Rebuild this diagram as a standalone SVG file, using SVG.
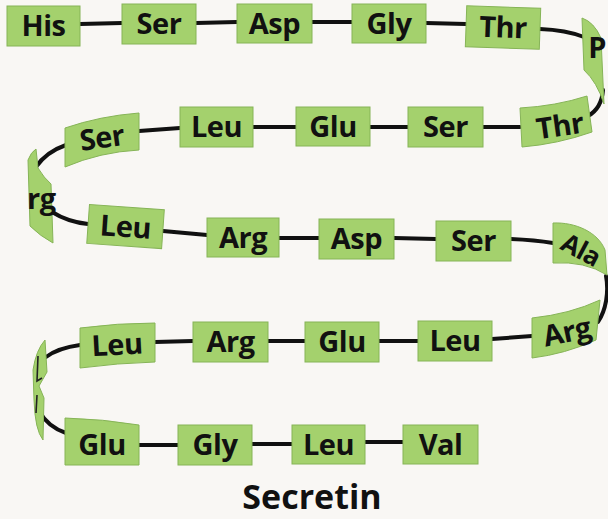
<svg xmlns="http://www.w3.org/2000/svg" width="608" height="519" viewBox="0 0 608 519">
<style>
.bx{fill:#a4d16d;stroke:#86b457;stroke-width:1}
.t{font-family:"Open Sans","Liberation Sans",sans-serif;font-weight:700;font-size:29px;fill:#111;text-anchor:middle;letter-spacing:-0.5px}
.c{fill:none;stroke:#111;stroke-width:4;stroke-linecap:round}
.title{font-family:"Open Sans","Liberation Sans",sans-serif;font-weight:700;font-size:34px;fill:#111;text-anchor:middle}
</style>
<rect width="608" height="519" fill="#f9f7f4"/>
<g id="connectors">
<path class="c" d="M80,24 L122,23"/>
<path class="c" d="M196,23 L237,22"/>
<path class="c" d="M312,22 L352,22"/>
<path class="c" d="M426,23 L466,24"/>
<path class="c" d="M540,29 Q566,30 584,37"/>
<path class="c" d="M603,90 C602,103 597,111 588,116"/>
<path class="c" d="M483,127 L520,127"/>
<path class="c" d="M370,127 L408,127"/>
<path class="c" d="M253,127 L296,127"/>
<path class="c" d="M139,131 L180,128"/>
<path class="c" d="M66,145 Q46,152 36,167"/>
<path class="c" d="M52,212 Q68,222 88,224"/>
<path class="c" d="M163,231 L207,235"/>
<path class="c" d="M279,238 L319,238"/>
<path class="c" d="M394,238 L436,239"/>
<path class="c" d="M511,239 Q535,240 553,243"/>
<path class="c" d="M606,276 C609,292 606,310 598,322"/>
<path class="c" d="M492,339 L532,336"/>
<path class="c" d="M379,341 L418,341"/>
<path class="c" d="M268,341 L305,341"/>
<path class="c" d="M155,342 L193,341"/>
<path class="c" d="M80,345 Q58,348 46,357"/>
<path class="c" d="M39,411 Q48,427 66,433"/>
<path class="c" d="M139,445 L178,445"/>
<path class="c" d="M252,444 L292,444"/>
<path class="c" d="M365,442 L403,442"/>
</g>
<g id="r1-his"><rect class="bx" x="7" y="6" width="73" height="40"/><text class="t" x="43.5" y="36">His</text></g>
<g id="r2-ser"><rect class="bx" x="122" y="4" width="74" height="40"/><text class="t" x="159" y="34">Ser</text></g>
<g id="r3-asp"><rect class="bx" x="237" y="4" width="75" height="39"/><text class="t" x="274.5" y="33.5">Asp</text></g>
<g id="r4-gly"><rect class="bx" x="352" y="4" width="74" height="39"/><text class="t" x="389" y="33.5">Gly</text></g>
<g id="r5-thr" transform="rotate(2 503 28)"><rect class="bx" x="466" y="7" width="74" height="41"/><text class="t" x="503" y="37.5">Thr</text></g>
<g id="r6-p"><path class="bx" d="M582,18 Q594,22 601,38 L604,104 Q597,82 584,70 Z"/><text class="t" x="597" y="58">P</text></g>
<g id="r7-thr"><path class="bx" d="M520,108 Q556,106 587,96 L592,132 Q558,144 522,147 Z"/><text class="t" transform="rotate(-8 560 126)" x="560" y="136">Thr</text></g>
<g id="r8-ser"><rect class="bx" x="408" y="107" width="75" height="40"/><text class="t" x="445.5" y="137">Ser</text></g>
<g id="r9-glu"><rect class="bx" x="296" y="107" width="74" height="39"/><text class="t" x="333" y="136.5">Glu</text></g>
<g id="r10-leu"><rect class="bx" x="180" y="107" width="73" height="40"/><text class="t" x="216.5" y="137">Leu</text></g>
<g id="r11-ser"><path class="bx" d="M65,128 Q100,116 139,113 L139,150 Q100,152 65,167 Z"/><text class="t" transform="rotate(-8 102 138)" x="102" y="148">Ser</text></g>
<g id="r12-arg"><path class="bx" d="M28,160 Q31,152 36,149 L38,168 Q44,178 51,184 L53,243 Q40,236 30,226 Z"/><text class="t" x="27" y="209" style="text-anchor:start">rg</text></g>
<g id="r13-leu" transform="rotate(4 125 227)"><rect class="bx" x="88" y="207" width="75" height="39"/><text class="t" x="125.5" y="237">Leu</text></g>
<g id="r14-arg"><rect class="bx" x="207" y="218" width="72" height="39"/><text class="t" x="243" y="247.5">Arg</text></g>
<g id="r15-asp"><rect class="bx" x="319" y="219" width="75" height="40"/><text class="t" x="356.5" y="249">Asp</text></g>
<g id="r16-ser"><rect class="bx" x="436" y="221" width="75" height="40"/><text class="t" x="473.5" y="251">Ser</text></g>
<g id="r17-ala"><path class="bx" d="M553,223 C575,222 598,232 605,250 L607,275 Q585,261 553,263 Z"/><text class="t" transform="rotate(28 581 250)" x="581" y="259" style="font-size:26px">Ala</text></g>
<g id="r18-arg"><path class="bx" d="M532,318 Q570,314 600,300 L596,340 Q565,354 532,358 Z"/><text class="t" transform="rotate(-12 567 332)" x="567" y="342">Arg</text></g>
<g id="r19-leu"><rect class="bx" x="418" y="321" width="74" height="40"/><text class="t" x="455" y="351">Leu</text></g>
<g id="r20-glu"><rect class="bx" x="305" y="322" width="74" height="40"/><text class="t" x="342" y="352">Glu</text></g>
<g id="r21-arg"><rect class="bx" x="193" y="322" width="75" height="40"/><text class="t" x="230.5" y="352">Arg</text></g>
<g id="r22-leu"><path class="bx" d="M80,328 Q118,323 155,323 L155,362 Q118,363 80,368 Z"/><text class="t" transform="rotate(-3 117 345)" x="117" y="355">Leu</text></g>
<g id="r23-turn"><path class="bx" d="M45,340 L47,372 L39,386 L44,398 L43,440 Q35,430 34,400 L33,370 Q36,350 45,340 Z"/><path d="M38,356 L37,381 L42,378 M37,395 L36,413" fill="none" stroke="#222" stroke-width="1.6"/></g>
<g id="r24-glu"><path class="bx" d="M65,418 Q103,419 139,425 L139,465 L65,465 Z"/><text class="t" x="102" y="455">Glu</text></g>
<g id="r25-gly"><rect class="bx" x="178" y="425" width="74" height="40"/><text class="t" x="215" y="455">Gly</text></g>
<g id="r26-leu"><rect class="bx" x="292" y="425" width="73" height="39"/><text class="t" x="328.5" y="454.5">Leu</text></g>
<g id="r27-val"><rect class="bx" x="403" y="425" width="75" height="39"/><text class="t" x="440.5" y="454.5">Val</text></g>
<text class="title" x="312" y="509">Secretin</text>
</svg>
